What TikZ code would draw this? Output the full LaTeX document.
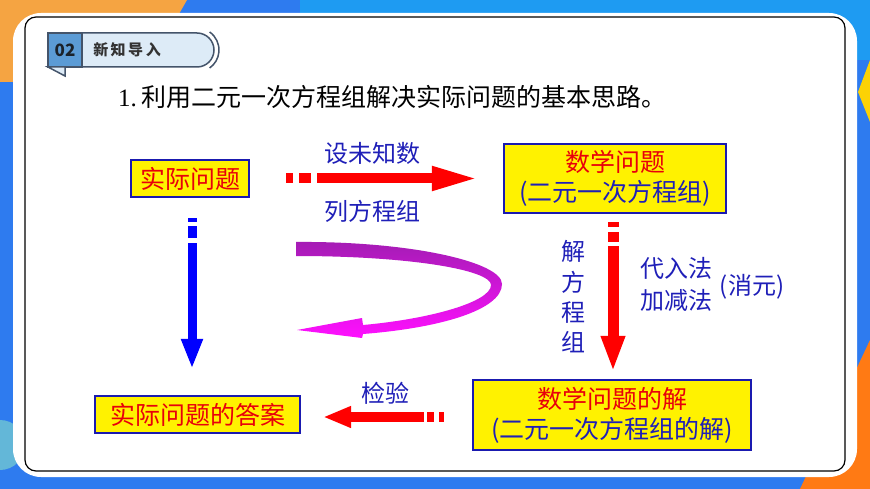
\documentclass[tikz,border=0pt]{standalone}
\usepackage{fontspec}
\setmainfont{Liberation Serif}
\newfontfamily\cjk{Noto Sans CJK SC}
\usetikzlibrary{arrows.meta,calc,positioning}

\definecolor{bgblue}{HTML}{2E7BEF}
\definecolor{bgsky}{HTML}{1E9BF2}
\definecolor{bgorange}{HTML}{F5A442}
\definecolor{bgdeep}{HTML}{FF7A14}
\definecolor{tagdark}{HTML}{5B9BD5}
\definecolor{taglight}{HTML}{DDEBF7}
\definecolor{tagline}{HTML}{44546A}
\definecolor{boxline}{HTML}{1A1AB0}
\definecolor{boxred}{HTML}{E8000B}
\definecolor{labelblue}{HTML}{1F1FB8}
\definecolor{ribbontop}{HTML}{A41CB4}
\definecolor{ribbonbot}{HTML}{FF10FF}

\tikzset{
  box/.style={draw=boxline, line width=2.2pt, fill=yellow, inner sep=0pt,
    align=center, font=\cjk\fontsize{25}{30}\selectfont},
  lbl/.style={text=labelblue, inner sep=0pt, align=center,
    font=\cjk\fontsize{24}{32}\selectfont},
  redarrow/.style={draw=red, line width=10pt},
  bluearrow/.style={draw=blue, line width=9pt},
  tagedge/.style={draw=tagline, line width=1.5pt}
}

\begin{document}
\begin{tikzpicture}[x=1pt,y=-1pt]
    \useasboundingbox (0,0) rectangle (870,489);

    % Background and panel
    \fill[bgblue] (0,0) rectangle (870,489);
    \fill[bgsky] (300,0) rectangle (870,60);
    \fill[bgorange] (0,0) -- (187,0) -- (140,82) -- (0,82) -- cycle;
    \fill[bgdeep] (870,340) -- (870,489) -- (800,489) -- cycle;
    \fill[yellow!70!orange] (870,60) -- (858,92) -- (870,122) -- cycle;
    \fill[cyan!60!teal!70!white] (0,445) circle (25pt);
    \fill[white, rounded corners=28pt] (13,13) rectangle (857,477);
    \draw[line width=1.2pt, rounded corners=11pt] (25,17) rectangle (845,471);

    % Section tag
    \draw[tagedge, fill=taglight] (82,33) -- (197,33) arc (90:-90:17pt) -- (82,67) -- cycle;
    \draw[tagedge] ($(197,50)+(55:22pt)$) arc (55:-55:22pt);
    \draw[tagedge, fill=tagdark] (48,33) rectangle (82,67);
    \draw[tagedge, fill=taglight] (48,67) -- (65,67) -- (65,76) -- cycle;
    \node[font=\cjk\bfseries\fontsize{17}{19}\selectfont, text=tagline!40!black] (num) at (65,50) {02};
    \node[font=\cjk\bfseries\fontsize{15}{17}\selectfont, text=black!80] (tagtext) at (127,50) {新\,知\,导\,入};

    % Title
    \node[anchor=west, inner sep=0pt, font=\fontsize{25}{30}\selectfont] (title) at (118,97)
        {1.\hspace{5pt}{\cjk 利用二元一次方程组解决实际问题的基本思路。}};

    % Boxes
    \node[box, minimum width=118pt, minimum height=37pt, text=boxred] (shiji) at (190,178.5) {实际问题};
    \node[box, minimum width=222pt, minimum height=69pt] (shuxue) at (615,178.5)
        {{\color{boxred}数学问题}\\{\color{labelblue}(二元一次方程组)}};
    \node[box, minimum width=278pt, minimum height=70pt] (jie) at (612,415)
        {{\color{boxred}数学问题的解}\\{\color{labelblue}(二元一次方程组的解)}};
    \node[box, minimum width=205pt, minimum height=37pt, text=boxred] (daan) at (197.5,414.5) {实际问题的答案};

    % Block arrows with dashed tails
    \draw[redarrow, dash pattern=on 7pt off 6pt on 12pt off 6pt on 400pt,
        -{Triangle[length=47pt,width=22pt]}, shorten <=36pt, shorten >=24pt]
        (shiji.east) -- (shuxue.west);
    \draw[bluearrow, dash pattern=on 4pt off 4pt on 12pt off 5pt on 400pt,
        -{Triangle[length=30pt,width=20pt]}, shorten <=20pt, shorten >=26pt]
        ([xshift=2pt]shiji.south) -- ([xshift=2pt]shiji.south |- daan.north);
    \draw[redarrow, line width=11pt, dash pattern=on 5pt off 5pt on 10pt off 4pt on 400pt,
        -{Triangle[length=36pt,width=22pt]}, shorten <=8pt, shorten >=7pt]
        ([xshift=-2pt]shuxue.south) -- ([xshift=-2pt]shuxue.south |- jie.north);
    \draw[redarrow, dash pattern=on 5pt off 5pt on 7pt off 3pt on 400pt,
        -{Triangle[length=28pt,width=20pt]}, shorten <=28pt, shorten >=22pt]
        ([yshift=-2pt]jie.west) -- ([yshift=-2pt]jie.west -| daan.east);

    % Curved ribbon arrow
    \shade[top color=ribbontop, bottom color=ribbonbot]
        (296,242) .. controls (410,241) and (502,262) .. (502,284)
        .. controls (502,310) and (440,328) .. (363,334)
        -- (362,338) -- (297,330) -- (362,318) -- (363,325)
        .. controls (430,319) and (491,302) .. (491,285)
        .. controls (491,270) and (410,256) .. (296,256) -- cycle;

    % Labels
    \node[lbl] (sheweizhi) at (372,153) {设未知数};
    \node[lbl] (liefangcheng) at (372,211) {列方程组};
    \node[lbl, font=\cjk\fontsize{24}{30.3}\selectfont] (jiefangcheng) at (573,297) {解\\方\\程\\组};
    \node[lbl] (fangfa) at (676,284) {代入法\\加减法};
    \node[lbl] (xiaoyuan) at (752,287) {(消元)};
    \node[lbl] (jianyan) at (385,393) {检验};
\end{tikzpicture}
\end{document}
